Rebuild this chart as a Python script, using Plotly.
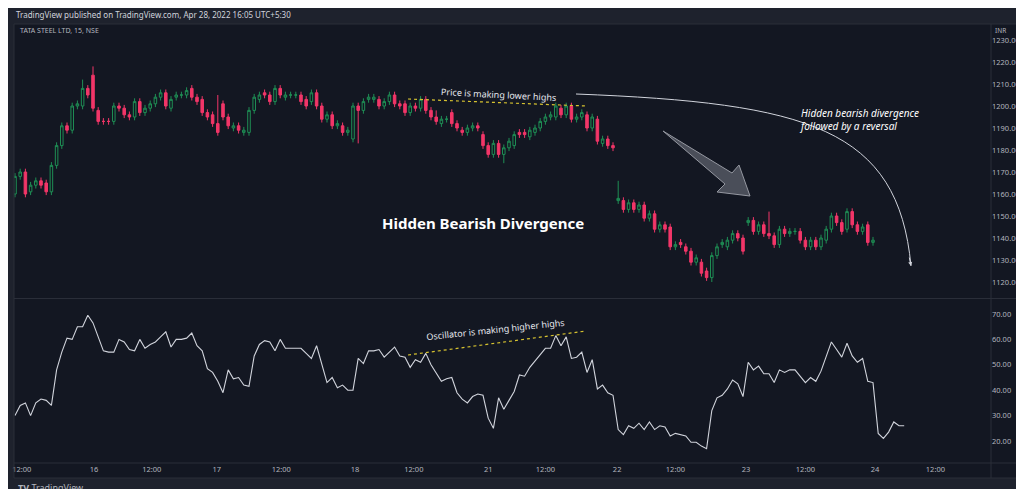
import plotly.graph_objects as go

W, H = 1024, 489

# OHLC (15 min bars, index 0 = Apr 15 11:45)
opens = [
    1160, 1168, 1170, 1161, 1164, 1166, 1165, 1161, 1173, 1182, 1191, 1189, 1200, 1200, 1208, 1214, 1198,
    1193, 1193, 1193, 1200, 1199, 1196, 1195, 1202, 1197, 1199, 1201, 1204, 1206, 1199, 1204, 1205,
    1205, 1208, 1204, 1203, 1197, 1196, 1192, 1201, 1195, 1190, 1191, 1188, 1188, 1198, 1203, 1206, 1205,
    1202, 1208, 1204, 1205, 1205, 1205, 1203, 1202, 1206, 1200, 1194, 1196, 1191, 1191, 1188, 1185,
    1200, 1198, 1203, 1203, 1203, 1200, 1202, 1205, 1201, 1201, 1197, 1200, 1199, 1203, 1198, 1195,
    1192, 1194, 1197, 1192, 1189, 1188, 1190, 1191, 1187, 1182, 1178, 1183, 1178, 1181, 1182, 1188,
    1188, 1186, 1188, 1190, 1193, 1195, 1195, 1199, 1196, 1200, 1194, 1195, 1196, 1190, 1194, 1183, 1185, 1182,
    1157, 1157, 1153, 1156, 1153, 1155, 1149, 1151, 1144, 1146, 1145, 1136, 1138, 1136, 1134, 1129,
    1129, 1125, 1122, 1132, 1137, 1136, 1139, 1142, 1140, 1147, 1148, 1143, 1146, 1142, 1141, 1137, 1144,
    1142, 1143, 1143, 1139, 1136, 1139, 1136, 1139, 1144, 1150, 1147, 1144, 1152, 1146, 1143, 1146, 1138,
]
closes = [
    1168, 1170, 1160, 1164, 1166, 1164, 1161, 1173, 1182, 1191, 1189, 1200, 1201, 1208, 1205, 1199, 1193,
    1193, 1193, 1200, 1199, 1196, 1195, 1202, 1197, 1199, 1201, 1204, 1206, 1200, 1203, 1205, 1205,
    1207, 1204, 1202, 1197, 1195, 1192, 1188, 1195, 1191, 1191, 1189, 1189, 1198, 1204, 1205, 1205, 1202,
    1208, 1205, 1205, 1205, 1205, 1202, 1200, 1206, 1200, 1194, 1196, 1191, 1192, 1188, 1189, 1200,
    1198, 1202, 1204, 1204, 1200, 1202, 1205, 1201, 1200, 1197, 1200, 1199, 1203, 1198, 1195, 1193,
    1194, 1194, 1192, 1190, 1188, 1190, 1191, 1190, 1182, 1178, 1183, 1178, 1181, 1184, 1187, 1187,
    1187, 1189, 1190, 1193, 1195, 1196, 1200, 1196, 1200, 1194, 1195, 1197, 1190, 1195, 1184, 1185, 1182, 1181,
    1158, 1153, 1156, 1153, 1155, 1149, 1151, 1144, 1146, 1144, 1136, 1137, 1137, 1134, 1129, 1131,
    1124, 1122, 1132, 1136, 1138, 1139, 1142, 1140, 1134, 1148, 1143, 1146, 1142, 1141, 1137, 1144, 1142,
    1143, 1143, 1139, 1136, 1139, 1136, 1140, 1144, 1150, 1147, 1143, 1152, 1146, 1143, 1145, 1138, 1139,
]
wick = 1.5
# notable wicks
high_override = {15: 1218, 13: 1212, 116: 1166, 145: 1152, 39: 1205, 81: 1198}
low_override = {134: 1120, 66: 1183, 94: 1174}

oscillator = [
    30, 34, 35, 30, 35, 36.5, 36, 34, 48, 55, 60.5, 60, 65, 65, 69.5, 66.5, 61, 55.5, 55, 55,
    60, 59, 56, 55.5, 60, 56.5, 58, 59, 61, 63, 57, 60, 60, 60.5, 62.5, 57.5, 55.5, 48.5, 47, 43.5,
    39, 48, 44.5, 45, 42, 41.5, 53.5, 58, 59.5, 59, 55.5, 60, 56.5, 56.5, 56.5, 56.5, 54.5, 52.5, 57.5, 50.5,
    43, 45, 41, 42, 40, 40, 52.5, 50.5, 55.5, 55.5, 56, 53, 55, 57, 53.5, 53, 49, 52, 51, 54.5,
    50, 47, 43.5, 44.5, 45, 39, 36.5, 35, 37.5, 38.5, 38, 29, 25, 37, 32.5, 36, 39.5, 46,
    45.5, 49, 51.5, 54, 56.5, 56.5, 61.5, 57.5, 61, 52.5, 53, 55, 47, 52, 40.5, 42, 39, 38, 24.5, 22.5,
    26, 25, 27, 24.5, 27.5, 24.5, 26, 25.5, 22, 23, 22.5, 22, 19.5, 19.5, 18, 17, 32, 37, 38, 40.5,
    44, 42.5, 37.5, 51, 48, 49.5, 46.5, 46.5, 43, 48, 47, 48, 48, 45.5, 43, 45, 43.5, 47.5, 53, 59,
    56, 53, 58.5, 53.5, 51, 52.5, 43.5, 43, 23, 21, 23.5, 27.5, 26, 26,
]

tick_pos = [1.3, 15.2, 26.3, 38.8, 51.2, 65.4, 76.7, 91, 102, 115.8, 127, 140.6, 152, 165.4, 177]
tick_text = ["12:00", "16", "12:00", "17", "12:00", "18", "12:00", "21", "12:00",
             "22", "12:00", "23", "12:00", "24", "12:00"]
price_ticks = list(range(1120, 1231, 10))
osc_ticks = list(range(20, 71, 10))

BG = "#131722"
FRAME = "#1e222d"
GRID = "#2a2e39"
TXT = "#b2b5be"


def idx(px):
    return (px - 7) / 5.2


def price(py):
    return 1200 - (py - 98) / 2.2


def osc(py):
    return 70 - (py - 306) / 2.54


n = len(closes)
xs = list(range(n))
highs = [high_override.get(i, max(o, c) + wick) for i, (o, c) in enumerate(zip(opens, closes))]
lows = [low_override.get(i, min(o, c) - wick) for i, (o, c) in enumerate(zip(opens, closes))]

fig = go.Figure()
fig.add_trace(go.Candlestick(
    x=xs, open=opens, high=highs, low=lows, close=closes,
    increasing=dict(line=dict(color="#1f8f55", width=1), fillcolor=BG),
    decreasing=dict(line=dict(color="#f23668", width=1), fillcolor="#f23668"),
    whiskerwidth=0, hoverinfo="skip", yaxis="y",
))
fig.add_trace(go.Scatter(
    x=list(range(len(oscillator))), y=oscillator, mode="lines",
    line=dict(color="#d1d4dc", width=1.1), yaxis="y2", hoverinfo="skip",
))

# yellow dotted divergence lines
fig.add_trace(go.Scatter(x=[idx(400), idx(578)], y=[price(91), price(98)], mode="lines",
                         line=dict(color="#d6c230", width=1.2, dash="dot"), yaxis="y"))
fig.add_trace(go.Scatter(x=[idx(400), idx(578)], y=[osc(347), osc(323)], mode="lines",
                         line=dict(color="#d6c230", width=1.2, dash="dot"), yaxis="y2"))

x0, x1 = idx(6), idx(983)
fig.update_layout(
    width=W, height=H, margin=dict(l=0, r=0, t=0, b=0, autoexpand=False),
    paper_bgcolor=FRAME, plot_bgcolor=BG, showlegend=False,
    font=dict(family="Noto Sans", color=TXT, size=8),
    xaxis=dict(domain=[6 / W, 983 / W], range=[x0, x1], anchor="y2",
               tickvals=tick_pos, ticktext=tick_text, showgrid=False, zeroline=False,
               rangeslider=dict(visible=False), ticks="", tickfont=dict(size=7.5),
               automargin=False),
    yaxis=dict(domain=[1 - 290 / H, 1 - 16 / H], range=[price(290), price(16)],
               side="right", anchor="x", tickvals=price_ticks, automargin=False,
               ticktext=[f"{v:.2f}" for v in price_ticks], showgrid=False, zeroline=False,
               tickfont=dict(size=7.5)),
    yaxis2=dict(domain=[1 - 455 / H, 1 - 291 / H], range=[osc(455), osc(291)],
                side="right", anchor="x", tickvals=osc_ticks, automargin=False,
                ticktext=[f"{v:.2f}" for v in osc_ticks], showgrid=False, zeroline=False,
                tickfont=dict(size=7.5)),
)


def px(x):
    return x / W


def py(y):
    return 1 - y / H


shapes = [
    # dark background behind the axis strips
    dict(type="rect", xref="paper", yref="paper", x0=px(983), x1=px(1018), y0=py(470), y1=py(16),
         fillcolor=BG, line_width=0, layer="below"),
    dict(type="rect", xref="paper", yref="paper", x0=px(6), x1=px(983), y0=py(470), y1=py(455),
         fillcolor=BG, line_width=0, layer="below"),
    dict(type="rect", xref="paper", yref="paper", x0=px(6), x1=px(1018), y0=py(470), y1=py(16),
         line=dict(color=GRID, width=1)),
    dict(type="line", xref="paper", yref="paper", x0=px(983), x1=px(983), y0=py(470), y1=py(16),
         line=dict(color=GRID, width=1)),
    dict(type="line", xref="paper", yref="paper", x0=px(6), x1=px(1018), y0=py(290.5), y1=py(290.5),
         line=dict(color=GRID, width=1)),
    dict(type="line", xref="paper", yref="paper", x0=px(6), x1=px(1018), y0=py(455), y1=py(455),
         line=dict(color=GRID, width=1)),
]

# curved arrow
s, c1, c2, e = (568, 86), (800, 95), (890, 120), (903, 258)
path = "M {},{} C {},{} {},{} {},{}".format(
    idx(s[0]), price(s[1]), idx(c1[0]), price(c1[1]), idx(c2[0]), price(c2[1]), idx(e[0]), price(e[1]))
shapes.append(dict(type="path", xref="x", yref="y", path=path, line=dict(color="#d1d4dc", width=1)))

# gray block arrow
pts = [(655, 123), (724, 165), (731, 157), (742, 188), (709, 184), (717, 176)]
path = "M " + " L ".join(f"{idx(a)},{price(b)}" for a, b in pts) + " Z"
shapes.append(dict(type="path", xref="x", yref="y", path=path,
                   fillcolor="rgba(120,123,134,0.55)", line=dict(color="#9598a1", width=1)))
fig.update_layout(shapes=shapes)

ann = [
    dict(x=px(6), y=py(7), text="TradingView published on TradingView.com, Apr 28, 2022 16:05 UTC+5:30",
         xanchor="left", font=dict(size=8, color="#d1d4dc")),
    dict(x=px(10), y=py(23), text="TATA STEEL LTD, 15, NSE", xanchor="left", font=dict(size=7, color=TXT)),
    dict(x=px(1000), y=py(22), text="INR", font=dict(size=6.5, color=TXT)),
    dict(x=px(490), y=py(86), text="Price is making lower highs", textangle=3,
         font=dict(size=9, color="#e6e8ee")),
    dict(x=px(487), y=py(321), text="Oscillator is making higher highs", textangle=-6,
         font=dict(size=9, color="#e6e8ee")),
    dict(x=px(475), y=py(215), text="<b>Hidden Bearish Divergence</b>",
         font=dict(size=15, color="#ffffff")),
    dict(x=px(789), y=py(111), text="<i>Hidden bearish divergence<br>followed by a reversal</i>",
         xanchor="left", align="left", font=dict(size=10, color="#ffffff")),
    dict(x=px(8), y=py(479), text="<b>TV</b> TradingView", xanchor="left", font=dict(size=9, color=TXT)),
]
for a in ann:
    a.update(xref="paper", yref="paper", showarrow=False, yanchor="middle")
ann.append(dict(x=idx(903), y=price(258), xref="x", yref="y", ax=-2, ay=-10, text="",
                showarrow=True, arrowhead=2, arrowsize=0.8, arrowwidth=1, arrowcolor="#d1d4dc"))
fig.update_layout(annotations=ann)

fig.write_html("out.html")
